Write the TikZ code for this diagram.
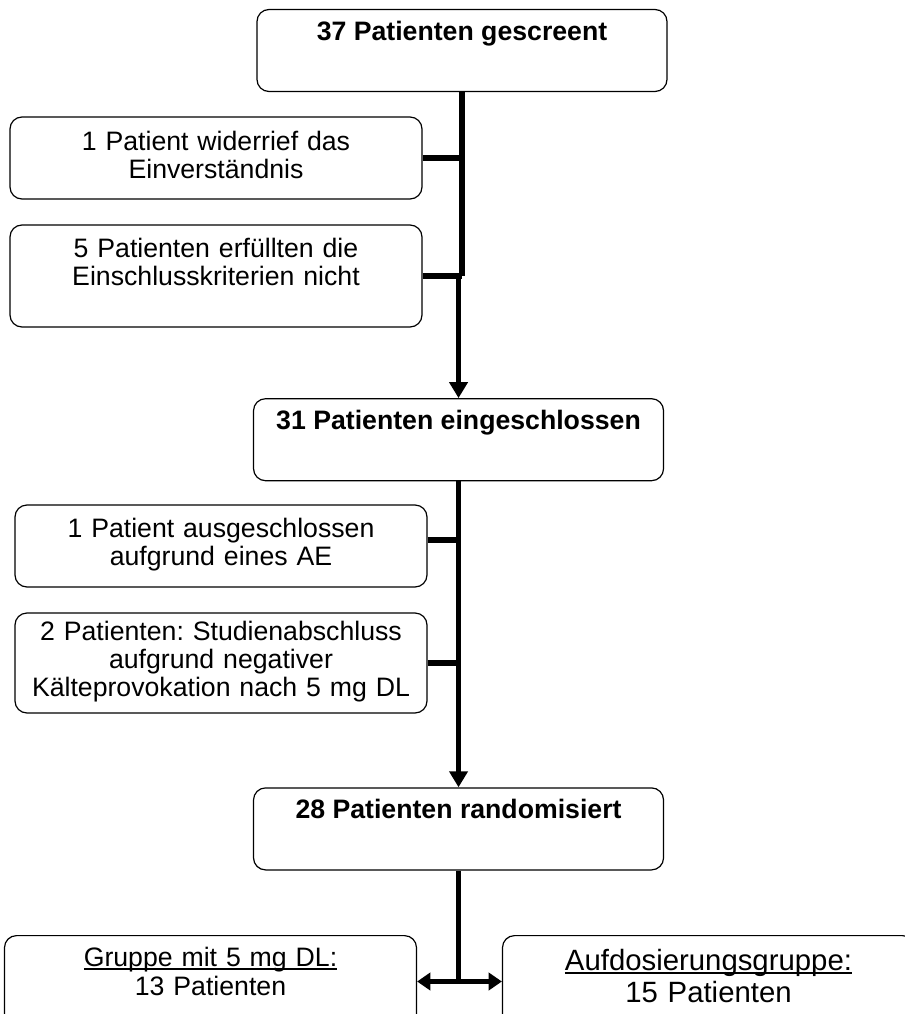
\documentclass[tikz,border=0pt]{standalone}
\usepackage{fontspec}
\setmainfont{Liberation Sans}
\usepackage{tikz}
\usetikzlibrary{arrows.meta, positioning}
\frenchspacing

\newcommand{\undr}[1]{\setbox0\hbox{#1}\rlap{\rule[-2.2pt]{\wd0}{0.9pt}}\box0}

\begin{document}
\begin{tikzpicture}[x=0.75pt, y=-0.75pt, node distance=229.5pt,
    mainbox/.style={draw, rounded corners=9pt, line width=0.9pt, minimum width=307.5pt,
        inner sep=0pt, text height=23.25pt, text depth=38.25pt,
        font=\bfseries\fontsize{20}{22}\selectfont},
    sidebox/.style={draw, rounded corners=9pt, line width=0.9pt, text width=301pt,
        inner xsep=4pt, inner ysep=0pt, align=center,
        font=\fontsize{20}{21}\selectfont},
    link/.style={line width=4.2pt},
    flow/.style={line width=4.2pt, -{Triangle[length=12pt, width=13.5pt]}},
    split/.style={line width=4.2pt, {Triangle[length=10pt, width=13pt]}-{Triangle[length=10pt, width=13pt]}}]
    \useasboundingbox (0,0) rectangle (905,1014);

    % Hauptpfad
    \node[mainbox] (scr) at (462,50.5) {37 Patienten gescreent};
    \node[mainbox, below=of scr, xshift=-2.6pt] (incl) {31 Patienten eingeschlossen};
    \node[mainbox, below=of incl] (rand) {28 Patienten randomisiert};

    % Ausschluesse
    \node[sidebox, text height=24.75pt, text depth=36.75pt] (drop1) at (216,158)
        {1 Patient widerrief das\\Einverständnis};
    \node[sidebox, text height=24pt, text depth=52.5pt] (drop2) at (216,276)
        {5 Patienten erfüllten die\\Einschlusskriterien nicht};
    \node[sidebox, text height=24pt, text depth=37.5pt] (drop3) at (221,546)
        {1 Patient ausgeschlossen\\aufgrund eines AE};
    \node[sidebox, text height=20.25pt, text depth=54.75pt] (drop4) at (221,663)
        {2 Patienten: Studienabschluss\\aufgrund negativer\\Kälteprovokation nach 5 mg DL};

    % Gruppen
    \node[sidebox, anchor=north, text height=23.25pt, text depth=51.75pt,
        font=\fontsize{20}{21.75}\selectfont] (grpdl) at (210.5,935)
        {\undr{Gruppe mit 5 mg DL:}\\13 Patienten};
    \node[sidebox, anchor=north, text height=26.25pt, text depth=48.75pt,
        font=\fontsize{22}{24}\selectfont] (grpauf) at (708.5,935)
        {\undr{Aufdosierungsgruppe:}\\15 Patienten};

    \coordinate[below=83.25pt of rand.south] (fork);

    \draw[link] (scr.south) -- (scr.south |- drop2.east);
    \draw[flow] (incl.north |- drop2.east) -- (incl.north);
    \draw[link] (drop1.east) -- (drop1.east -| scr.south);
    \draw[link] (drop2.east) -- (drop2.east -| scr.south);
    \draw[link] (incl.south) -- (rand.north |- drop4.east);
    \draw[flow] (rand.north |- drop4.east) -- (rand.north);
    \draw[link] ([yshift=4.5pt]drop3.east) -- ([yshift=4.5pt]drop3.east -| incl.south);
    \draw[link] (drop4.east) -- (drop4.east -| incl.south);
    \draw[link] (rand.south) -- (fork);
    \draw[split] (fork -| grpdl.east) -- (fork -| grpauf.west);
\end{tikzpicture}
\end{document}
